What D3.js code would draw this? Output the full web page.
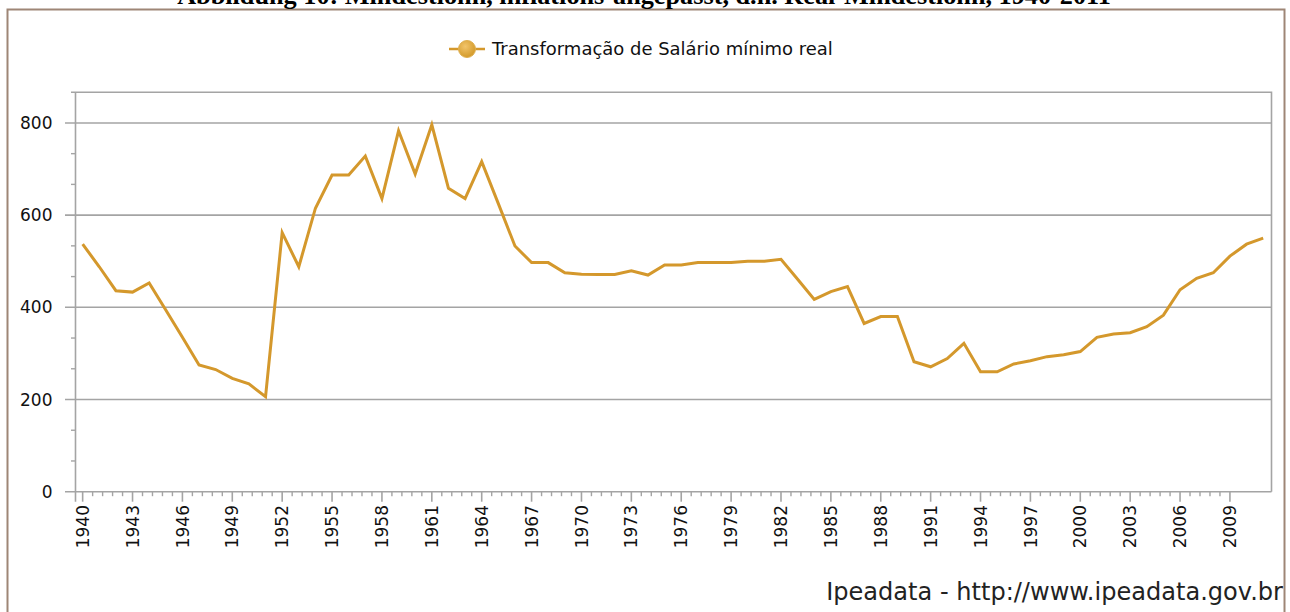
<!DOCTYPE html>
<html>
<head>
<meta charset="utf-8">
<script src="https://cdn.jsdelivr.net/npm/d3@7"></script>
<style>
  body { margin: 0; background: #fff; }
  svg { display: block; }
</style>
</head>
<body>
<div id="chart"></div>
<script>
// data
var years = [1940,1941,1942,1943,1944,1945,1946,1947,1948,1949,
             1950,1951,1952,1953,1954,1955,1956,1957,1958,1959,
             1960,1961,1962,1963,1964,1965,1966,1967,1968,1969,
             1970,1971,1972,1973,1974,1975,1976,1977,1978,1979,
             1980,1981,1982,1983,1984,1985,1986,1987,1988,1989,
             1990,1991,1992,1993,1994,1995,1996,1997,1998,1999,
             2000,2001,2002,2003,2004,2005,2006,2007,2008,2009,
             2010,2011];
var salario = [537,488,436,433,453,394,335,275,265,246,
               234,206,562,488,615,687,687,728,636,783,
               689,796,658,636,716,625,533,497,497,475,
               472,471,471,479,470,492,492,497,497,497,
               500,500,504,461,417,434,445,365,380,380,
               282,271,289,322,260,260,277,284,293,297,
               304,335,342,345,358,383,438,463,475,511,
               537,550];
var xTickYears = [1940,1943,1946,1949,1952,1955,1958,1961,1964,1967,1970,1973,
                  1976,1979,1982,1985,1988,1991,1994,1997,2000,2003,2006,2009];
var yTickValues = [0,200,400,600,800];
var seriesName = "Transformação de Salário mínimo real";
var titleText = "Abbildung 10: Mindestlohn, inflations-angepasst, d.h. Real-Mindestlohn, 1940-2011";
var sourceText = "Ipeadata - http://www.ipeadata.gov.br";

var W = 1290, H = 612;
var lineColor = "#d4982c";
var gridColor = "#a4a4a4";
var yMax = 866.67;

var svg = d3.select("#chart").append("svg")
    .attr("width", W)
    .attr("height", H);

// shrink/grow a text's font size so it spans the wanted width
function fitText(sel, target) {
  var fs = parseFloat(sel.style("font-size"));
  var len = sel.node().getComputedTextLength();
  if (len > 0) sel.style("font-size", (fs * target / len) + "px");
  return sel;
}

// outer frame
svg.append("rect")
   .attr("x", 7.5).attr("y", 9.5)
   .attr("width", 1277).attr("height", 700)
   .attr("fill", "none")
   .attr("stroke", "#9e8676")
   .attr("stroke-width", 2);

// title, cut off at the top like the scan
var title = svg.append("text")
   .attr("x", 644).attr("y", 4)
   .attr("text-anchor", "middle")
   .style("font-family", "'Liberation Serif', 'Times New Roman', serif")
   .style("font-weight", "bold")
   .style("font-size", "21px")
   .attr("fill", "#000")
   .text(titleText);
fitText(title, 934);

// scales
var x = d3.scaleLinear().domain([1939.57, 2011.5]).range([75.5, 1271.5]);
var y = d3.scaleLinear().domain([0, yMax]).range([491.7, 92.2]);

// gridlines
svg.append("g")
   .selectAll("line")
   .data(yTickValues.filter(function(d){ return d > 0; }))
 .enter().append("line")
   .attr("x1", 65).attr("x2", x.range()[1])
   .attr("y1", function(d){ return y(d); })
   .attr("y2", function(d){ return y(d); })
   .attr("stroke", gridColor)
   .attr("stroke-width", 1.6);

// plot border (top + right)
svg.append("path")
   .attr("d", "M" + 71 + "," + y.range()[1] + "H" + x.range()[1] + "V" + y.range()[0])
   .attr("fill", "none")
   .attr("stroke", gridColor)
   .attr("stroke-width", 1.6);

// y axis
var yAxis = svg.append("g").attr("class", "y-axis");
yAxis.append("line")
   .attr("x1", x.range()[0]).attr("x2", x.range()[0])
   .attr("y1", y.range()[1]).attr("y2", y.range()[0] + 10)
   .attr("stroke", gridColor).attr("stroke-width", 1.6);
var yMinor = [];
yTickValues.forEach(function(v){ yMinor.push(v + 200/3, v + 400/3); });
yMinor = yMinor.filter(function(d){ return d < yMax - 1; });
yAxis.selectAll(".minor").data(yMinor)
 .enter().append("line")
   .attr("x1", 71).attr("x2", x.range()[0])
   .attr("y1", function(d){ return y(d); })
   .attr("y2", function(d){ return y(d); })
   .attr("stroke", gridColor).attr("stroke-width", 1.4);
yAxis.selectAll(".major0").data([0])
 .enter().append("line")
   .attr("x1", 65).attr("x2", x.range()[1])
   .attr("y1", y(0)).attr("y2", y(0))
   .attr("stroke", gridColor).attr("stroke-width", 1.6);
yAxis.selectAll("text").data(yTickValues)
 .enter().append("text")
   .attr("x", 52.5)
   .attr("y", function(d){ return y(d); })
   .attr("dy", "0.36em")
   .attr("text-anchor", "end")
   .style("font-family", "'DejaVu Sans', Verdana, sans-serif")
   .style("font-size", "17px")
   .attr("fill", "#111")
   .text(function(d){ return d; });

// x axis ticks
var xAxis = svg.append("g").attr("class", "x-axis");
xAxis.selectAll(".major").data(xTickYears)
 .enter().append("line")
   .attr("x1", function(d){ return x(d); })
   .attr("x2", function(d){ return x(d); })
   .attr("y1", y(0)).attr("y2", y(0) + 10)
   .attr("stroke", gridColor).attr("stroke-width", 1.6);
var xMinor = [];
xTickYears.slice(0, -1).forEach(function(t){
  for (var k = 1; k < 5; k++) xMinor.push(t + k * 0.6);
});
xAxis.selectAll(".minor").data(xMinor)
 .enter().append("line")
   .attr("x1", function(d){ return x(d); })
   .attr("x2", function(d){ return x(d); })
   .attr("y1", y(0)).attr("y2", y(0) + 4.5)
   .attr("stroke", gridColor).attr("stroke-width", 1.4);
xAxis.selectAll("text").data(xTickYears)
 .enter().append("text")
   .attr("transform", function(d){ return "translate(" + x(d) + ",505) rotate(-90)"; })
   .attr("dy", "0.36em")
   .attr("text-anchor", "end")
   .style("font-family", "'DejaVu Sans', Verdana, sans-serif")
   .style("font-size", "17px")
   .attr("fill", "#111")
   .text(function(d){ return d; });

// the series line
var line = d3.line()
   .x(function(d, i){ return x(years[i]); })
   .y(function(d){ return y(d); });
svg.append("path")
   .datum(salario)
   .attr("d", line)
   .attr("fill", "none")
   .attr("stroke", lineColor)
   .attr("stroke-width", 3)
   .attr("stroke-linejoin", "miter");

// legend
var grad = svg.append("defs").append("radialGradient")
   .attr("id", "dot").attr("cx", "40%").attr("cy", "35%").attr("r", "65%");
grad.append("stop").attr("offset", "0%").attr("stop-color", "#f2c46a");
grad.append("stop").attr("offset", "100%").attr("stop-color", "#d39a2a");
var legend = svg.append("g").attr("transform", "translate(449,49)");
legend.append("line")
   .attr("x1", 0).attr("x2", 36).attr("y1", 0).attr("y2", 0)
   .attr("stroke", lineColor).attr("stroke-width", 2.5);
legend.append("circle")
   .attr("cx", 18).attr("cy", 0).attr("r", 8.5)
   .attr("fill", "url(#dot)")
   .attr("stroke", "#e0b050").attr("stroke-width", 1);
var legendText = legend.append("text")
   .attr("x", 43).attr("y", 0).attr("dy", "0.36em")
   .style("font-family", "'DejaVu Sans', Verdana, sans-serif")
   .style("font-size", "16px")
   .attr("fill", "#111")
   .text(seriesName);
fitText(legendText, 341);

// source note
var source = svg.append("text")
   .attr("x", 1283).attr("y", 591).attr("dy", "0.36em")
   .attr("text-anchor", "end")
   .style("font-family", "'DejaVu Sans', Verdana, sans-serif")
   .style("font-size", "21px")
   .attr("fill", "#222")
   .text(sourceText);
fitText(source, 457);
</script>
</body>
</html>
